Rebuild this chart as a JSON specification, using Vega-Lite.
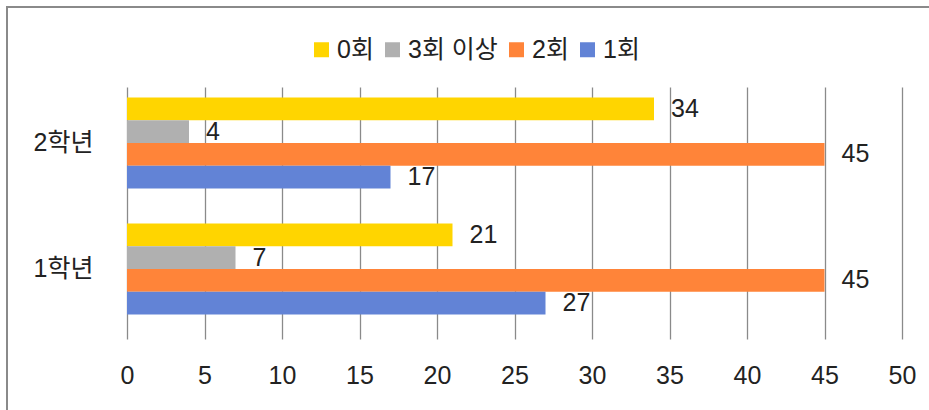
{
  "$schema": "https://vega.github.io/schema/vega-lite/v6.json",
  "width": 924,
  "height": 405,
  "padding": {"left": 7, "top": 7, "right": 0, "bottom": 0},
  "background": "white",
  "data": {
    "values": [
      {"grade": "2학년", "cat": "0회", "value": 34},
      {"grade": "2학년", "cat": "3회 이상", "value": 4},
      {"grade": "2학년", "cat": "2회", "value": 45},
      {"grade": "2학년", "cat": "1회", "value": 17},
      {"grade": "1학년", "cat": "0회", "value": 21},
      {"grade": "1학년", "cat": "3회 이상", "value": 7},
      {"grade": "1학년", "cat": "2회", "value": 45},
      {"grade": "1학년", "cat": "1회", "value": 27}
    ]
  },
  "encoding": {
    "y": {
      "field": "grade",
      "type": "nominal",
      "sort": ["2학년", "1학년"],
      "scale": {"range": [73, 325], "paddingInner": 0, "paddingOuter": 0},
      "axis": {
        "title": null,
        "domain": false,
        "ticks": false,
        "grid": false,
        "labelFontSize": 25,
        "labelColor": "#222",
        "labelPadding": 0,
        "offset": -86
      }
    },
    "yOffset": {
      "field": "cat",
      "type": "nominal",
      "sort": ["0회", "3회 이상", "2회", "1회"],
      "scale": {"paddingInner": 0, "paddingOuter": 0.77}
    },
    "x": {
      "field": "value",
      "type": "quantitative",
      "scale": {"domain": [0, 50], "range": [120, 895], "nice": false},
      "axis": {
        "title": null,
        "values": [0, 5, 10, 15, 20, 25, 30, 35, 40, 45, 50],
        "domain": false,
        "ticks": false,
        "grid": true,
        "gridColor": "#8a8a8a",
        "gridWidth": 1.3,
        "labelFontSize": 25,
        "labelColor": "#222",
        "labelPadding": 0,
        "labelFlush": false,
        "offset": -49
      }
    }
  },
  "layer": [
    {
      "mark": {"type": "bar"},
      "encoding": {
        "color": {
          "field": "cat",
          "type": "nominal",
          "scale": {
            "domain": ["0회", "3회 이상", "2회", "1회"],
            "range": ["#FFD500", "#B0B0B0", "#FF8439", "#6283D6"]
          },
          "legend": {
            "title": null,
            "orient": "none",
            "direction": "horizontal",
            "legendX": 302,
            "legendY": 30,
            "symbolType": "square",
            "symbolSize": 225,
            "symbolStrokeWidth": 0,
            "labelFontSize": 25,
            "labelColor": "#222",
            "labelOffset": 3,
            "columnPadding": 6,
            "padding": 0
          }
        }
      }
    },
    {
      "mark": {"type": "text", "align": "left", "baseline": "middle", "dx": 17, "fontSize": 25, "color": "#222"},
      "encoding": {
        "text": {"field": "value", "type": "quantitative"}
      }
    }
  ],
  "config": {
    "font": "Liberation Sans, Noto Sans CJK KR",
    "view": {"stroke": "#8a8a8a", "strokeWidth": 2}
  }
}
